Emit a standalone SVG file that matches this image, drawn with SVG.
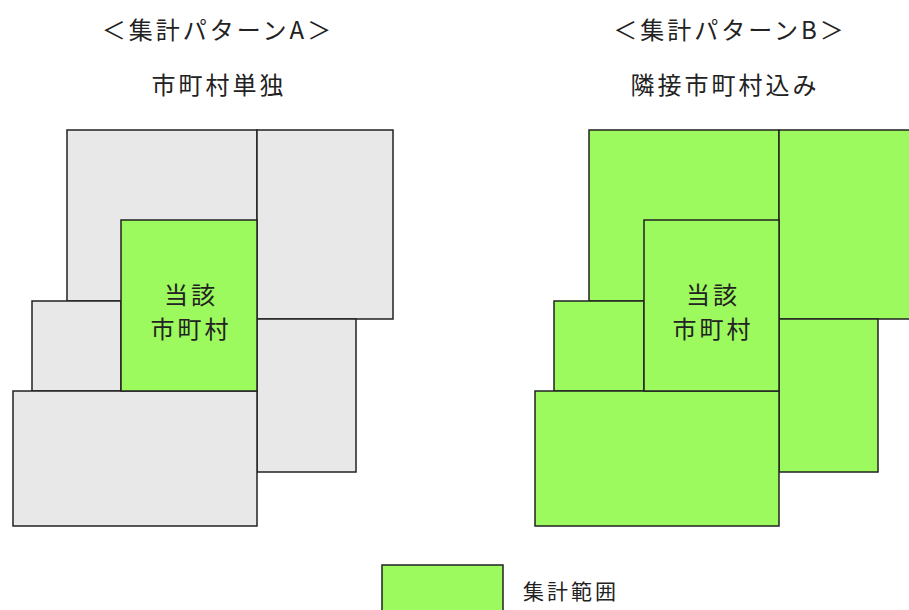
<svg xmlns="http://www.w3.org/2000/svg" width="909" height="610" viewBox="0 0 909 610">
<style>
.t{font-family:"Noto Sans CJK JP","Noto Sans",sans-serif;fill:#222;text-anchor:middle}
.g{fill:#e8e8e8;stroke:#222;stroke-width:1.5}
.v{fill:#9cf95e;stroke:#222;stroke-width:1.5}
.h{font-size:24px;letter-spacing:3px}
</style>
<rect width="909" height="610" fill="#fff"/>
<text class="t h" x="218" y="39" letter-spacing="1">＜集計パターンA＞</text>
<text class="t h" x="219" y="94">市町村単独</text>
<text class="t h" x="730" y="39" letter-spacing="1">＜集計パターンB＞</text>
<text class="t h" x="725" y="94">隣接市町村込み</text>
<g id="patternA">
<g id="A-topleft"><rect class="g" x="67" y="130" width="190" height="171"/></g>
<g id="A-topright"><rect class="g" x="257" y="130" width="136" height="189"/></g>
<g id="A-lowerright"><rect class="g" x="257" y="319" width="99" height="153"/></g>
<g id="A-left"><rect class="g" x="32" y="301" width="89" height="90"/></g>
<g id="A-bottom"><rect class="g" x="13" y="391" width="244" height="135"/></g>
<g id="A-center"><rect class="v" x="121" y="220" width="136" height="171"/>
<text class="t h" x="191" y="304">当該</text>
<text class="t h" x="191" y="338">市町村</text></g>
</g>
<g id="patternB">
<g id="B-topleft"><rect class="v" x="589" y="130" width="190" height="171"/></g>
<g id="B-topright"><rect class="v" x="779" y="130" width="140" height="189"/></g>
<g id="B-lowerright"><rect class="v" x="779" y="319" width="99" height="153"/></g>
<g id="B-left"><rect class="v" x="554" y="301" width="90" height="90"/></g>
<g id="B-bottom"><rect class="v" x="535" y="391" width="244" height="135"/></g>
<g id="B-center"><rect class="v" x="644" y="220" width="135" height="171"/>
<text class="t h" x="713" y="304">当該</text>
<text class="t h" x="713" y="338">市町村</text></g>
</g>
<g id="connectors"/>
<g id="legend">
<rect class="v" x="382" y="565" width="121" height="50"/>
<text class="t" x="523" y="599" font-size="21" letter-spacing="3" style="text-anchor:start">集計範囲</text>
</g>
</svg>
